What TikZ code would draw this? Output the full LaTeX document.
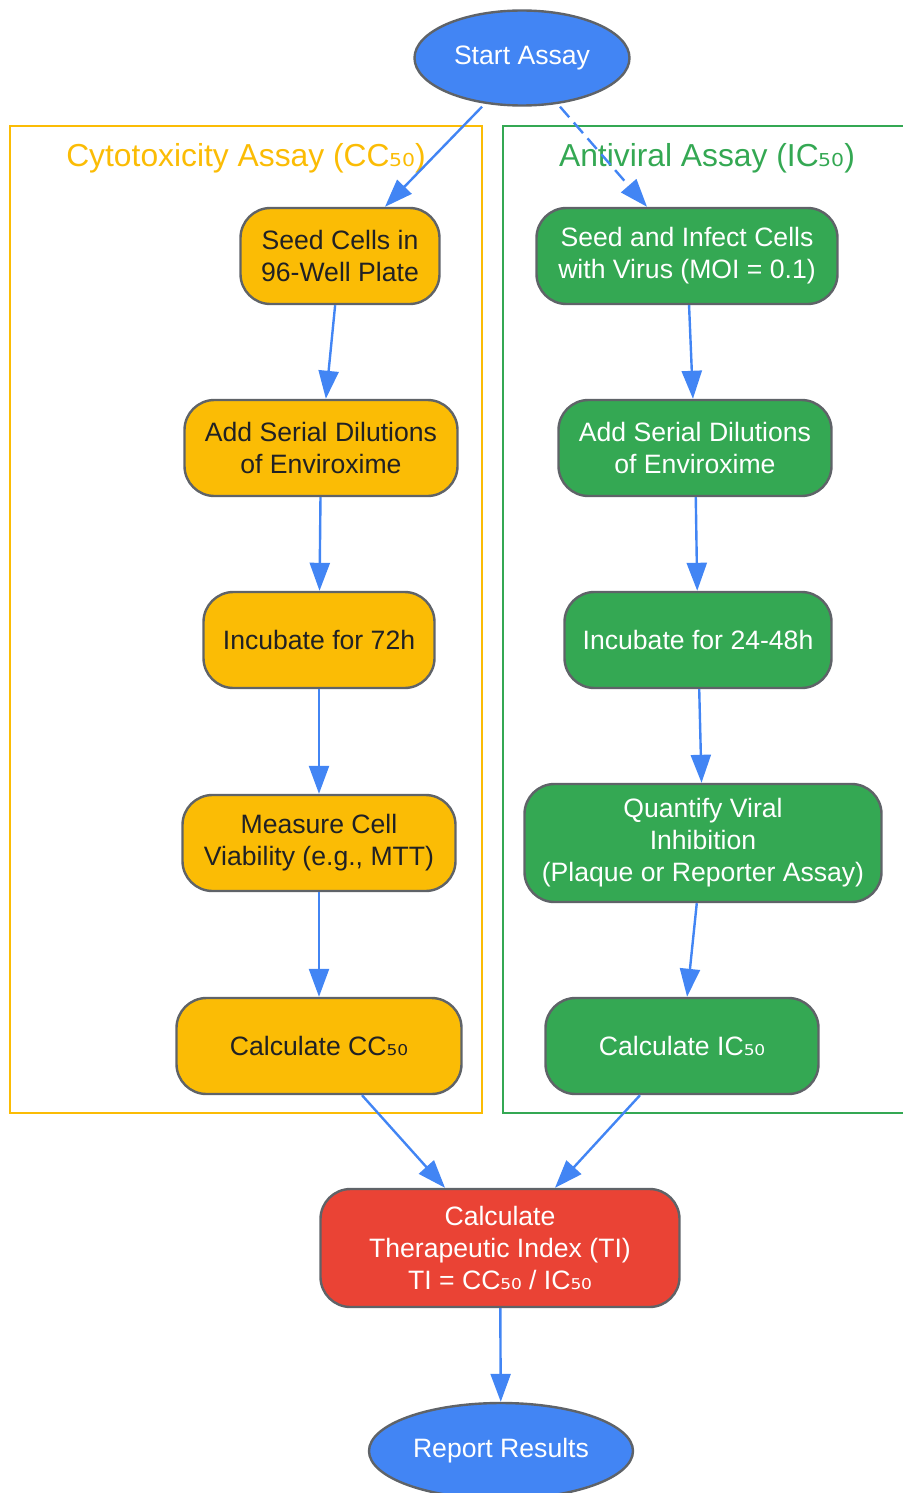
\documentclass[tikz,border=0pt]{standalone}
\usepackage{fontspec}
\setmainfont{Liberation Sans}
\newfontfamily\subfont{DejaVu Sans}
\usetikzlibrary{shapes.geometric,arrows.meta}

\definecolor{gblue}{HTML}{4285F4}
\definecolor{gyellow}{HTML}{FBBC05}
\definecolor{ggreen}{HTML}{34A853}
\definecolor{gred}{HTML}{EA4335}
\definecolor{ggray}{HTML}{5F6368}
\definecolor{gdark}{HTML}{202124}

\newcommand{\fifty}{{\subfont ₅₀}}

\tikzset{
  stepbox/.style={draw=ggray, line width=1.2pt, rounded corners=15pt, inner sep=0pt,
    minimum height=48pt, align=center, font=\fontsize{13.3}{16}\selectfont},
  endbox/.style={ellipse, draw=ggray, line width=1.2pt, fill=gblue, text=white, inner sep=0pt,
    font=\fontsize{13.3}{16}\selectfont},
  cytostep/.style={stepbox, fill=gyellow, text=gdark},
  antistep/.style={stepbox, fill=ggreen, text=white},
  clusterbox/.style={line width=1.1pt},
  clustertitle/.style={font=\fontsize{15.9}{19}\selectfont},
  flow/.style={draw=gblue, line width=1.2pt, -{Triangle[length=14pt,width=10pt]}},
}

\begin{document}
\begin{tikzpicture}[x=0.5pt, y=-0.5pt]
\useasboundingbox (0,0) rectangle (902,1493);

% clusters
\draw[clusterbox, draw=gyellow] (10,126) rectangle (482,1113);
\draw[clusterbox, draw=ggreen] (503,126) rectangle (906,1113);
\node[clustertitle, text=gyellow] (cytotitle) at (246,158) {Cytotoxicity Assay (CC\fifty)};
\node[clustertitle, text=ggreen] (antititle) at (707,158) {Antiviral Assay (IC\fifty)};

\node[endbox, minimum width=107.5pt, minimum height=47.5pt] (start) at (522,58) {Start Assay};

\node[cytostep, minimum width=99.5pt] (seed) at (340,256) {Seed Cells in\\96-Well Plate};
\node[cytostep, minimum width=136.5pt] (dilc) at (321,448) {Add Serial Dilutions\\of Enviroxime};
\node[cytostep, minimum width=115.5pt] (inc72) at (319,640) {Incubate for 72h};
\node[cytostep, minimum width=136.5pt] (viab) at (319,843) {Measure Cell\\Viability (e.g., MTT)};
\node[cytostep, minimum width=142.5pt] (cc50) at (319,1046) {Calculate CC\fifty};

\node[antistep, minimum width=150.5pt] (infect) at (687,256) {Seed and Infect Cells\\with Virus (MOI = 0.1)};
\node[antistep, minimum width=136.5pt] (dila) at (695,448) {Add Serial Dilutions\\of Enviroxime};
\node[antistep, minimum width=133.5pt] (inc48) at (698,640) {Incubate for 24-48h};
\node[antistep, minimum width=178.5pt, minimum height=59pt] (quant) at (703,843) {Quantify Viral\\Inhibition\\(Plaque or Reporter Assay)};
\node[antistep, minimum width=136.5pt] (ic50) at (682,1046) {Calculate IC\fifty};

\node[stepbox, fill=gred, text=white, minimum width=179.5pt, minimum height=59pt] (ti) at (500,1248) {Calculate\\Therapeutic Index (TI)\\TI = CC\fifty{} / IC\fifty};
\node[endbox, minimum width=132pt, minimum height=48pt] (report) at (501,1451) {Report Results};

% connectors
\draw[flow] ([xshift=-20pt]start.south) -- ([xshift=22.5pt]seed.north);
\draw[flow, dash pattern=on 7pt off 3.5pt] ([xshift=19pt]start.south) -- ([xshift=-20pt]infect.north);
\draw[flow] (seed) -- (dilc);
\draw[flow] (dilc) -- (inc72);
\draw[flow] (inc72) -- (viab);
\draw[flow] (viab) -- (cc50);
\draw[flow] (infect) -- (dila);
\draw[flow] (dila) -- (inc48);
\draw[flow] (inc48) -- (quant);
\draw[flow] (quant) -- (ic50);
\draw[flow] ([xshift=21.5pt]cc50.south) -- ([xshift=-27.5pt]ti.north);
\draw[flow] ([xshift=-21pt]ic50.south) -- ([xshift=27.5pt]ti.north);
\draw[flow] (ti) -- (report);

\end{tikzpicture}
\end{document}
